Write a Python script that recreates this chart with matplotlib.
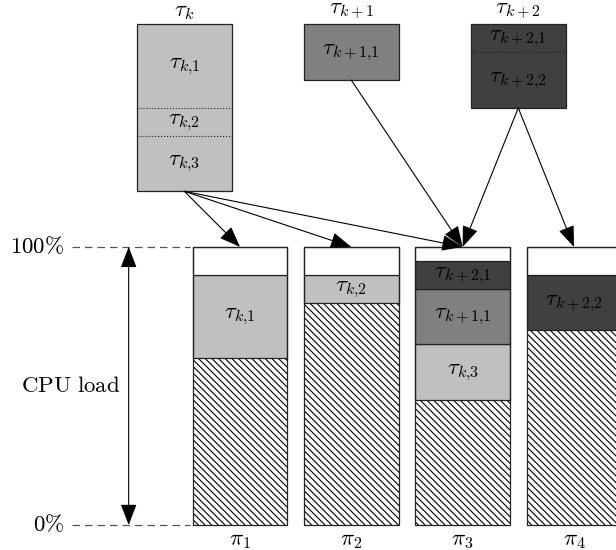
import matplotlib
matplotlib.use("Agg")
import matplotlib.pyplot as plt

plt.rcParams['mathtext.fontset'] = 'cm'
plt.rcParams['font.family'] = ['DejaVu Serif']
plt.rcParams['hatch.linewidth'] = 0.8

# processors and their background load (fraction of 100%)
proc_labels = [r'$\pi_1$', r'$\pi_2$', r'$\pi_3$', r'$\pi_4$']
proc_x = [1, 2, 3, 4]
base_load = [0.60, 0.80, 0.45, 0.70]

# tasks at the top, each split into subtasks (top to bottom)
task_labels = [r'$\tau_k$', r'$\tau_{k+1}$', r'$\tau_{k+2}$']
task_x = [0.5, 2.0, 3.5]
task_colors = ['#c0c0c0', '#808080', '#404040']
sub_labels = [
    [r'$\tau_{k{,}1}$', r'$\tau_{k{,}2}$', r'$\tau_{k{,}3}$'],
    [r'$\tau_{k+1{,}1}$'],
    [r'$\tau_{k+2{,}1}$', r'$\tau_{k+2{,}2}$'],
]
sub_loads = [
    [0.30, 0.10, 0.20],
    [0.20],
    [0.10, 0.20],
]
# processor index each subtask is mapped to
sub_target = [
    [0, 1, 2],
    [2],
    [2, 3],
]
# stacking order on each processor (task, subtask), bottom to top
proc_stack = [
    [(0, 0)],
    [(0, 1)],
    [(0, 2), (1, 0), (2, 0)],
    [(2, 1)],
]

box_top = 1.8
width = 0.85
edge = '#222222'
fs = 16.5

fig = plt.figure(figsize=(6.16, 5.5), dpi=100)
ax = fig.add_axes([0, 0, 1, 1])
ax.set_xlim(-1.156, 4.378)
ax.set_ylim(-0.09, 1.888)
ax.axis('off')

# processor bars
for i, x in enumerate(proc_x):
    ax.bar(x, base_load[i], width, color='white', edgecolor='black',
           hatch='\\\\\\\\\\', linewidth=0)
    bottom = base_load[i]
    for t, s in proc_stack[i]:
        h = sub_loads[t][s]
        ax.bar(x, h, width, bottom=bottom, color=task_colors[t],
               edgecolor=edge, linewidth=0.9)
        ax.text(x, bottom + h / 2, sub_labels[t][s], ha='center',
                va='center', fontsize=fs)
        bottom += h
    ax.bar(x, 1 - bottom, width, bottom=bottom, color='white',
           edgecolor=edge, linewidth=0.9)
    ax.bar(x, 1, width, fill=False, edgecolor=edge, linewidth=0.9)
    ax.annotate(proc_labels[i], (x, 0), xytext=(0, -3),
                textcoords='offset points', ha='center', va='top',
                fontsize=fs)

# task boxes at the top
for t, x in enumerate(task_x):
    top = box_top
    total = sum(sub_loads[t])
    ax.bar(x, total, width, bottom=top - total, color=task_colors[t],
           edgecolor=edge, linewidth=0.9)
    for s, h in enumerate(sub_loads[t]):
        ax.text(x, top - h / 2, sub_labels[t][s], ha='center',
                va='center', fontsize=fs)
        top -= h
        if s < len(sub_loads[t]) - 1:
            ax.hlines(top, x - width / 2, x + width / 2, colors=edge,
                      linestyles=':', linewidth=0.8)
    ax.annotate(task_labels[t], (x, box_top), xytext=(0, 2),
                textcoords='offset points', ha='center', va='bottom',
                fontsize=fs)

    # mapping arrows
    for s, p in enumerate(sub_target[t]):
        ax.annotate('', xy=(proc_x[p], 1.0), xytext=(x, box_top - total),
                    arrowprops=dict(arrowstyle='-|>,head_length=0.65,head_width=0.25',
                                    mutation_scale=20, color='black',
                                    lw=0.8, shrinkA=0, shrinkB=0))

# load scale on the left
for y, lab in [(1.0, r'$100\%$'), (0.0, r'$0\%$')]:
    ax.hlines(y, -0.509, 0.55, colors='#555555', linestyles=(0, (6, 4)),
              linewidth=0.9)
    ax.text(-0.581, y, lab, ha='right', va='center', fontsize=fs)
ax.annotate('', xy=(0, 1.0), xytext=(0, 0.0),
            arrowprops=dict(arrowstyle='<|-|>,head_length=0.65,head_width=0.25',
                            mutation_scale=20, color='black', lw=0.8,
                            shrinkA=0, shrinkB=0))
ax.text(-0.078, 0.5, r'$\mathrm{CPU\ load}$', ha='right', va='center',
        fontsize=fs)

fig.savefig('out.png', dpi=100)
